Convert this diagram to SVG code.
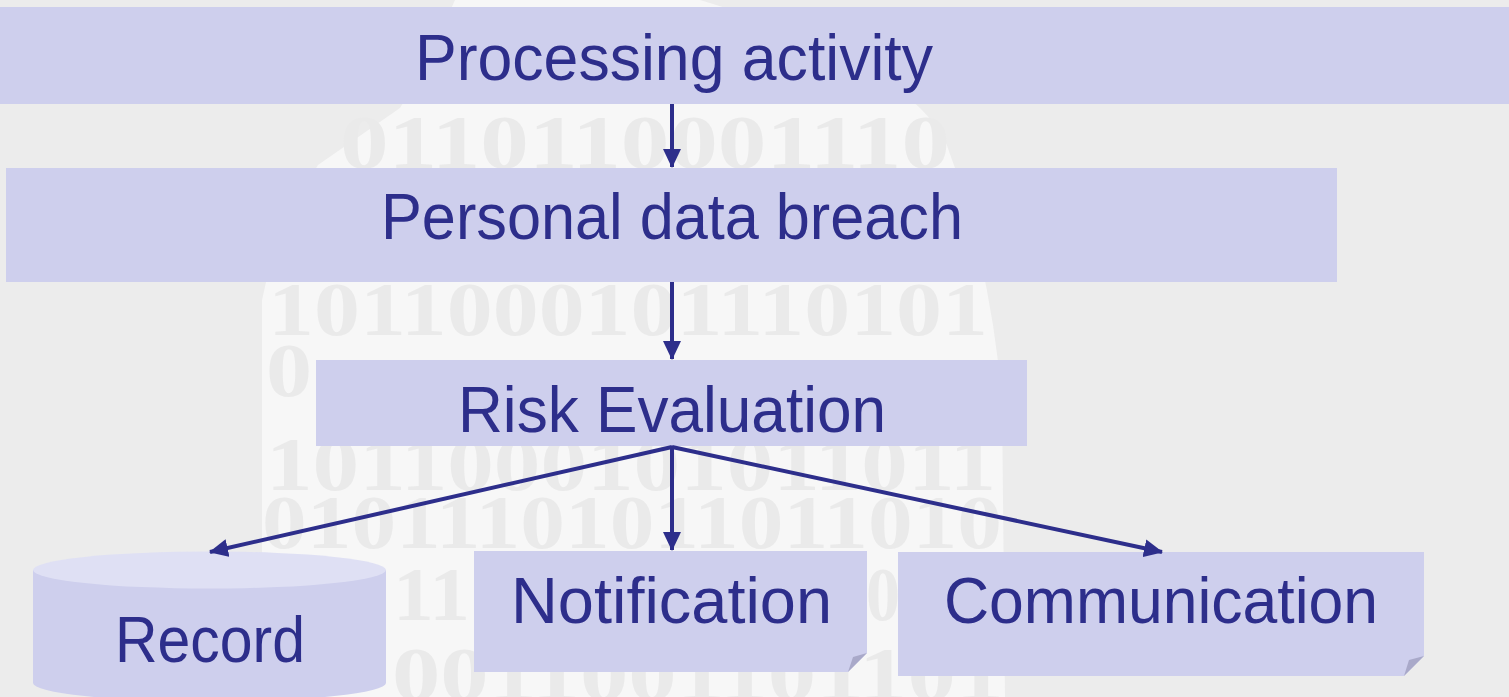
<svg xmlns="http://www.w3.org/2000/svg" width="1509" height="697" viewBox="0 0 1509 697">
  <defs>
    <style>
      .box { fill: #CECFED; }
      .fold { fill: #A9A9C9; }
      .label { font-family: "Liberation Sans", Arial, sans-serif; font-size: 64px; fill: #2D2E8B; }
      .edge { stroke: #2D2E8B; stroke-width: 4; fill: none; }
      .bits { font-family: "Liberation Serif", "Times New Roman", serif; font-weight: bold; font-size: 76px; fill: #EAEAEA; }
    </style>
    <marker id="arrow" markerUnits="userSpaceOnUse" markerWidth="19" markerHeight="18" refX="18" refY="9" orient="auto">
      <path d="M0,0 L19,9 L0,18 z" fill="#2D2E8B"/>
    </marker>
  </defs>

  <!-- backdrop -->
  <rect width="1509" height="697" fill="#ECECEC"/>

  <!-- watermark: head silhouette filled with binary digits -->
  <g id="watermark">
    <path d="M262 697 L262 300 Q275 230 318 165 L400 108 Q430 60 455 0 L700 0 Q900 60 945 140 Q990 260 1002 400 L1005 697 Z" fill="#F7F7F7"/>
    <text class="bits" x="340" y="168" textLength="610" lengthAdjust="spacingAndGlyphs">0110110001110</text>
    <text class="bits" x="268" y="335" textLength="720" lengthAdjust="spacingAndGlyphs">1011000101110101</text>
    <text class="bits" x="266" y="396" textLength="46" lengthAdjust="spacingAndGlyphs">0</text>
    <text class="bits" x="266" y="490" textLength="730" lengthAdjust="spacingAndGlyphs">1011000101011011</text>
    <text class="bits" x="262" y="548" textLength="740" lengthAdjust="spacingAndGlyphs">01011101011011010</text>
    <text class="bits" x="393" y="620" textLength="77" lengthAdjust="spacingAndGlyphs">11</text>
    <text class="bits" x="866" y="620" textLength="34" lengthAdjust="spacingAndGlyphs">0</text>
    <text class="bits" x="392" y="700" textLength="612" lengthAdjust="spacingAndGlyphs">0011001101101</text>
  </g>

  <!-- process steps -->
  <g id="processing-activity">
    <rect class="box" x="0" y="7" width="1509" height="97"/>
    <text class="label" x="415" y="80" textLength="518" lengthAdjust="spacingAndGlyphs">Processing activity</text>
  </g>

  <g id="personal-data-breach">
    <rect class="box" x="6" y="168" width="1331" height="114"/>
    <text class="label" x="381" y="239" textLength="582" lengthAdjust="spacingAndGlyphs">Personal data breach</text>
  </g>

  <g id="risk-evaluation">
    <rect class="box" x="316" y="360" width="711" height="86"/>
    <text class="label" x="458" y="432" textLength="428" lengthAdjust="spacingAndGlyphs">Risk Evaluation</text>
  </g>

  <!-- outcomes -->
  <g id="record">
    <path class="box" d="M33 570 L33 683 A176.5 18.5 0 0 0 386 683 L386 570 Z"/>
    <ellipse cx="209.5" cy="570" rx="176.5" ry="18.5" fill="#DFE0F4"/>
    <text class="label" x="115" y="662" textLength="190" lengthAdjust="spacingAndGlyphs">Record</text>
  </g>

  <g id="notification">
    <path class="box" d="M474 551 L867 551 L867 653 L848 672 L474 672 Z"/>
    <path class="fold" d="M848 672 L867 653 L853 657 Z"/>
    <text class="label" x="511" y="623" textLength="321" lengthAdjust="spacingAndGlyphs">Notification</text>
  </g>

  <g id="communication">
    <path class="box" d="M898 552 L1424 552 L1424 656 L1404 676 L898 676 Z"/>
    <path class="fold" d="M1404 676 L1424 656 L1409 660 Z"/>
    <text class="label" x="944" y="623" textLength="434" lengthAdjust="spacingAndGlyphs">Communication</text>
  </g>

  <!-- connectors -->
  <g id="connectors">
    <line class="edge" x1="672" y1="104" x2="672" y2="167" marker-end="url(#arrow)"/>
    <line class="edge" x1="672" y1="282" x2="672" y2="359" marker-end="url(#arrow)"/>
    <line class="edge" x1="672" y1="446" x2="672" y2="550" marker-end="url(#arrow)"/>
    <line class="edge" x1="672" y1="447" x2="210" y2="552" marker-end="url(#arrow)"/>
    <line class="edge" x1="672" y1="447" x2="1162" y2="552" marker-end="url(#arrow)"/>
  </g>
</svg>
